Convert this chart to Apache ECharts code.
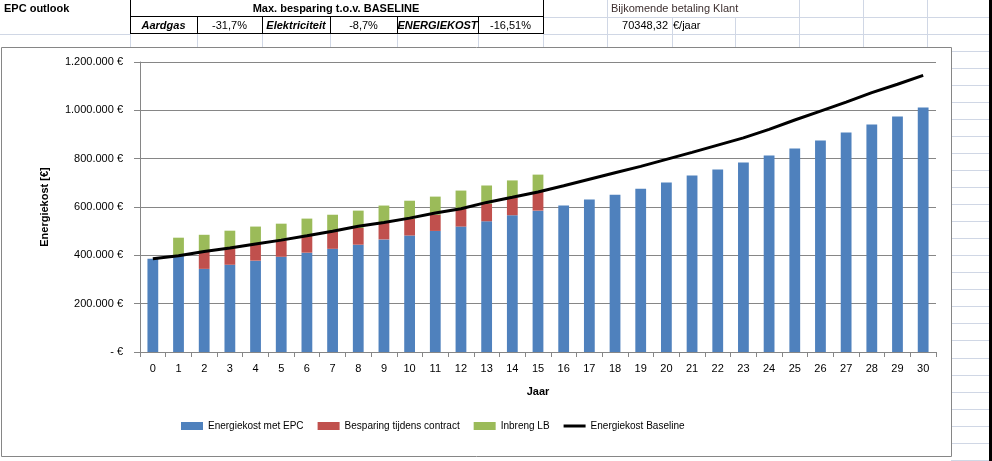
<!DOCTYPE html>
<html>
<head>
<meta charset="utf-8">
<script src="https://cdn.jsdelivr.net/npm/echarts@6/dist/echarts.min.js"></script>
<style>
html,body{margin:0;padding:0;background:#fff;}
#c{width:992px;height:461px;}
</style>
</head>
<body>
<div id="c"></div>
<script>
// ---- data ----
const years = ['0','1','2','3','4','5','6','7','8','9','10','11','12','13','14','15','16','17','18','19','20','21','22','23','24','25','26','27','28','29','30'];
const energiekostMetEPC = [386000, 397000, 344000, 361000, 378000, 394000, 411000, 427000, 444000, 466000, 482000, 501000, 519000, 541000, 566000, 585000, 606000, 631000, 651000, 676000, 701000, 730000, 755000, 784000, 813000, 842000, 875000, 908000, 941000, 974000, 1012000];
const besparingContract = [null, null, 71000, 69000, 69000, 68000, 70000, 70000, 69000, 69000, 69000, 67000, 73000, 72000, 72000, 78000, null, null, null, null, null, null, null, null, null, null, null, null, null, null, null];
const inbrengLB = [null, 76000, 70000, 72000, 72000, 69000, 71000, 71000, 72000, 71000, 75000, 75000, 76000, 76000, 72000, 71000, null, null, null, null, null, null, null, null, null, null, null, null, null, null, null];
const energiekostBaseline = [386000, 398000, 416000, 430000, 447000, 463000, 481000, 500000, 520000, 536000, 554000, 575000, 593000, 619000, 640000, 662000, 688000, 715000, 742000, 768000, 797000, 826000, 856000, 886000, 921000, 960000, 997000, 1034000, 1073000, 1108000, 1145000];
const seriesNames = ['Energiekost met EPC', 'Besparing tijdens contract', 'Inbreng LB', 'Energiekost Baseline'];
const headerTitle = 'EPC outlook';
const headerMax = 'Max. besparing t.o.v. BASELINE';
const headerCells = [['Aardgas', true], ['-31,7%', false], ['Elektriciteit', true], ['-8,7%', false], ['ENERGIEKOST', true], ['-16,51%', false]];
const extraLabel = 'Bijkomende betaling Klant';
const extraValue = '70348,32';
const extraUnit = '€/jaar';

// ---- helpers ----
const FONT = '"Liberation Sans", Arial, sans-serif';
function fmtEuro(v) {
  if (v === 0) return '- €';
  return String(v).replace(/\B(?=(\d{3})+(?!\d))/g, '.') + ' €';
}
const GRID_C = '#d0d7e5';
const g = [];
function line(x1, y1, x2, y2, color, w) {
  g.push({type: 'line', z: -5, silent: true, shape: {x1, y1, x2, y2}, style: {stroke: color, lineWidth: w || 1}});
}
const rowYs = [];
for (let y = 16.5; y < 461; y += 17.05) rowYs.push(Math.round(y) + 0.5);
rowYs.forEach(y => {
  if (y < 47) {
    if (y > 20) { line(0, y, 130, y, GRID_C); }
    line(543, y, 990, y, GRID_C);
  } else {
    line(951, y, 990, y, GRID_C);
  }
});
[[607.5, 0, 47], [672.5, 17, 47], [735.5, 17, 47], [799.5, 0, 47], [863.5, 0, 47], [927.5, 0, 47]].forEach(a => line(a[0], a[1], a[0], a[2], GRID_C));
[197.5, 262.5, 330.5, 397.5, 478.5, 543.5, 130.5].forEach(x => line(x, 33, x, 47, GRID_C));
line(130.5, 0, 130.5, 34, '#000');
line(543.5, 0, 543.5, 34, '#000');
line(130, 16.5, 544, 16.5, '#000');
line(130, 33.5, 544, 33.5, '#000');
[197.5, 262.5, 330.5, 397.5, 478.5].forEach(x => line(x, 16, x, 34, '#000'));
g.push({type: 'rect', z: 10, silent: true, shape: {x: 989, y: 0, width: 3, height: 461}, style: {fill: '#000'}});
g.push({type: 'rect', z: -4, silent: true, shape: {x: 1.5, y: 47.5, width: 950, height: 409}, style: {fill: '#fff', stroke: '#868686', lineWidth: 1}});
function txt(text, x, y, align, bold, italic, color, size) {
  g.push({type: 'text', z: 5, silent: true, x, y, style: {text, fill: color || '#000', font: (italic ? 'italic ' : '') + (bold ? 'bold ' : '') + (size || 11) + 'px ' + FONT, textAlign: align, textVerticalAlign: 'middle'}});
}
txt(headerTitle, 4, 9, 'left', true, false, '#000', 11);
txt(headerMax, 336, 9, 'center', true, false, '#000', 11);
const cellBounds = [130, 197, 262, 330, 397, 478, 543];
headerCells.forEach((c, i) => {
  const cx = (cellBounds[i] + cellBounds[i + 1]) / 2;
  txt(c[0], cx, 26, 'center', c[1], c[1], '#000', 11);
});
txt(extraLabel, 611, 9, 'left', false, false, '#3d2f2f', 11);
txt(extraValue, 668, 26, 'right', false, false, '#000', 11);
txt(extraUnit, 673, 26, 'left', false, false, '#000', 11);

const chart = echarts.init(document.getElementById('c'), null, {renderer: 'canvas'});
const option = {
  animation: false,
  backgroundColor: '#fff',
  textStyle: {fontFamily: FONT},
  graphic: {elements: g},
  grid: {left: 140, right: 56, top: 62, bottom: 109, containLabel: false},
  legend: {
    left: 176, top: 416,
    itemWidth: 22, itemHeight: 8, itemGap: 14,
    textStyle: {fontSize: 10, color: '#000', fontFamily: FONT},
    data: [
      {name: seriesNames[0], icon: 'rect'},
      {name: seriesNames[1], icon: 'rect'},
      {name: seriesNames[2], icon: 'rect'},
      {name: seriesNames[3], icon: 'path://M0,3 L22,3 L22,6 L0,6 Z'}
    ]
  },
  xAxis: {
    type: 'category',
    data: years,
    name: 'Jaar',
    nameLocation: 'middle',
    nameGap: 34,
    nameTextStyle: {fontWeight: 'bold', fontSize: 11, color: '#000'},
    axisLine: {lineStyle: {color: '#868686'}},
    axisTick: {show: true, alignWithLabel: false, length: 5, lineStyle: {color: '#868686'}},
    axisLabel: {fontSize: 11, color: '#000', margin: 11, interval: 0}
  },
  yAxis: {
    type: 'value',
    min: 0, max: 1200000, interval: 200000,
    name: 'Energiekost [€]',
    nameLocation: 'middle',
    nameGap: 90,
    nameRotate: 90,
    nameTextStyle: {fontWeight: 'bold', fontSize: 11, color: '#000'},
    axisLine: {show: true, lineStyle: {color: '#868686'}},
    axisTick: {show: true, length: 6, lineStyle: {color: '#868686'}},
    splitLine: {lineStyle: {color: '#868686'}},
    axisLabel: {fontSize: 11, color: '#000', margin: 17, formatter: fmtEuro}
  },
  series: [
    {name: seriesNames[0], type: 'bar', stack: 'a', data: energiekostMetEPC, barWidth: '42%', itemStyle: {color: '#4f81bd'}},
    {name: seriesNames[1], type: 'bar', stack: 'a', data: besparingContract, barWidth: '42%', itemStyle: {color: '#c0504d'}},
    {name: seriesNames[2], type: 'bar', stack: 'a', data: inbrengLB, barWidth: '42%', itemStyle: {color: '#9bbb59'}},
    {name: seriesNames[3], type: 'line', data: energiekostBaseline, symbol: 'none', smooth: false, z: 5, lineStyle: {color: '#000', width: 3}, itemStyle: {color: '#000'}}
  ]
};
chart.setOption(option);
</script>
</body>
</html>
